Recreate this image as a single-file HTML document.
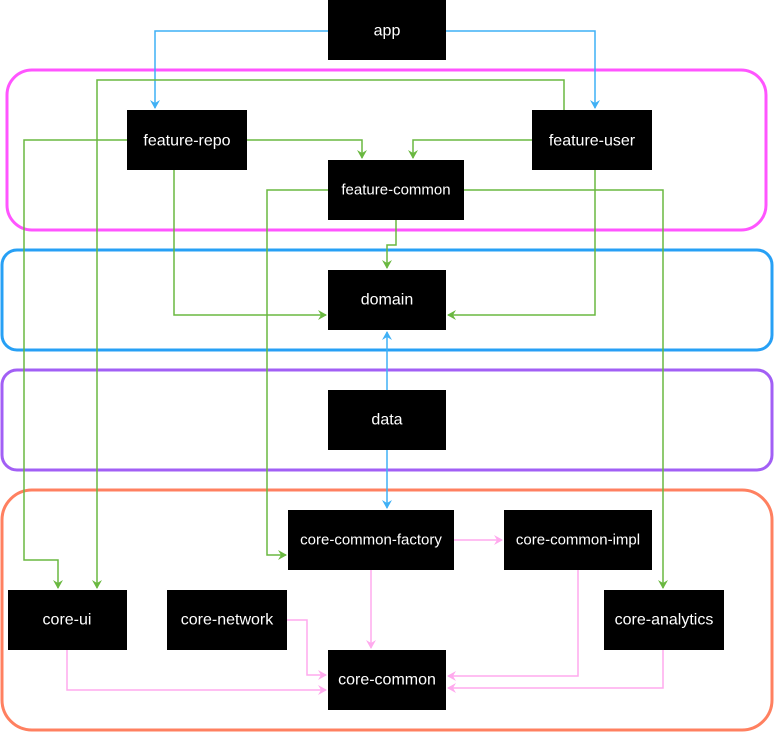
<!DOCTYPE html>
<html><head><style>
html,body{margin:0;padding:0;background:#fff;}
svg{display:block;}
text{font-family:"Liberation Sans",sans-serif;font-size:16px;fill:#fff;text-anchor:middle;dominant-baseline:central;}
</style></head><body>
<svg width="774" height="733" viewBox="0 0 774 733" xmlns="http://www.w3.org/2000/svg">
<defs>
<marker id="ag" markerWidth="10" markerHeight="10" refX="8" refY="5" orient="auto" markerUnits="userSpaceOnUse"><path d="M0,0 L9,5 L0,10 L3,5 z" fill="#6ab840"/></marker>
<marker id="ab" markerWidth="10" markerHeight="10" refX="8" refY="5" orient="auto" markerUnits="userSpaceOnUse"><path d="M0,0 L9,5 L0,10 L3,5 z" fill="#3fb0f5"/></marker>
<marker id="ap" markerWidth="10" markerHeight="10" refX="8" refY="5" orient="auto" markerUnits="userSpaceOnUse"><path d="M0,0 L9,5 L0,10 L3,5 z" fill="#ffaaee"/></marker>
</defs>
<g fill="none" stroke-width="3">
<rect x="7" y="70" width="759" height="160" rx="25" stroke="#ff55ff"/>
<rect x="2" y="250" width="770" height="100" rx="15" stroke="#27a0f5"/>
<rect x="2" y="370" width="770" height="100" rx="15" stroke="#a25ff5"/>
<rect x="2" y="490" width="770" height="240" rx="30" stroke="#ff8060"/>
</g>
<g fill="none" stroke="#3fb0f5" stroke-width="1.5">
<path d="M328,31 H155 V108" marker-end="url(#ab)"/>
<path d="M446,31 H595 V108" marker-end="url(#ab)"/>
<path d="M387,390 V332" marker-end="url(#ab)"/>
<path d="M387,450 V508" marker-end="url(#ab)"/>
</g>
<g fill="none" stroke="#6ab840" stroke-width="1.5">
<path d="M564,110 V80 H97 V588" marker-end="url(#ag)"/>
<path d="M127,140 H24 V560 H58 V588" marker-end="url(#ag)"/>
<path d="M247,140 H362 V158" marker-end="url(#ag)"/>
<path d="M532,140 H413 V158" marker-end="url(#ag)"/>
<path d="M174,170 V315 H326" marker-end="url(#ag)"/>
<path d="M595,170 V315 H448" marker-end="url(#ag)"/>
<path d="M396,220 V245 H387 V268" marker-end="url(#ag)"/>
<path d="M328,190 H267 V555 H286" marker-end="url(#ag)"/>
<path d="M464,190 H663 V588" marker-end="url(#ag)"/>
</g>
<g fill="none" stroke="#ffaaee" stroke-width="1.5">
<path d="M454,540 H502" marker-end="url(#ap)"/>
<path d="M371,570 V648" marker-end="url(#ap)"/>
<path d="M287,620 H307 V675 H326" marker-end="url(#ap)"/>
<path d="M67,650 V690 H326" marker-end="url(#ap)"/>
<path d="M578,570 V676 H448" marker-end="url(#ap)"/>
<path d="M663,650 V688 H448" marker-end="url(#ap)"/>
</g>
<g fill="#000">
<rect x="328" y="0" width="118" height="60"/>
<rect x="127" y="110" width="120" height="60"/>
<rect x="532" y="110" width="120" height="60"/>
<rect x="328" y="160" width="136" height="60"/>
<rect x="328" y="270" width="118" height="60"/>
<rect x="328" y="390" width="118" height="60"/>
<rect x="288" y="510" width="166" height="60"/>
<rect x="504" y="510" width="148" height="60"/>
<rect x="8" y="590" width="119" height="60"/>
<rect x="167" y="590" width="120" height="60"/>
<rect x="604" y="590" width="120" height="60"/>
<rect x="328" y="650" width="118" height="60"/>
</g>
<text x="387" y="31">app</text>
<text x="187" y="141">feature-repo</text>
<text x="592" y="141">feature-user</text>
<text x="396" y="190" style="font-size:15px">feature-common</text>
<text x="387" y="300">domain</text>
<text x="387" y="420">data</text>
<text x="371" y="540" style="font-size:15px">core-common-factory</text>
<text x="578" y="540" style="font-size:15px">core-common-impl</text>
<text x="67" y="620">core-ui</text>
<text x="227" y="620">core-network</text>
<text x="664" y="620">core-analytics</text>
<text x="387" y="680">core-common</text>
</svg>
</body></html>
